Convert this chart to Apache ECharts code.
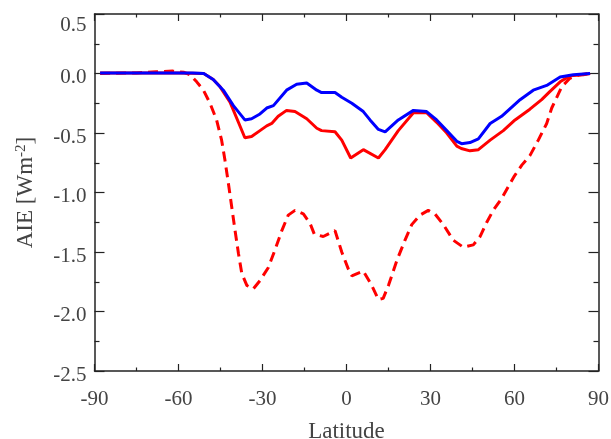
<!DOCTYPE html>
<html>
<head>
<meta charset="utf-8">
<script src="https://cdn.jsdelivr.net/npm/echarts@6/dist/echarts.min.js"></script>
<style>html,body{margin:0;padding:0;background:#fff}#c{width:611px;height:439px}</style>
</head>
<body>
<div id="c"></div>
<script>
// Blue solid
const latBlue = [-88,-80,-70,-60,-55,-51,-47.6,-44,-40.4,-36.3,-33.9,-30.9,-28.5,-26.1,-21.4,-17.8,-14.2,-10.6,-8.9,-4.1,-1.7,1.9,6,8.4,11.4,13.8,18.5,23.9,28.6,32.2,35.8,39.4,41.1,44.1,47.1,51.3,55.4,62,66.7,71.5,76.3,81,87];
const aieBlue = [0.005,0.005,0.005,0.005,0.005,0,-0.05,-0.14,-0.27,-0.39,-0.38,-0.34,-0.29,-0.27,-0.14,-0.09,-0.08,-0.14,-0.16,-0.16,-0.20,-0.25,-0.32,-0.39,-0.47,-0.49,-0.39,-0.31,-0.32,-0.39,-0.48,-0.57,-0.59,-0.58,-0.55,-0.42,-0.36,-0.22,-0.14,-0.10,-0.03,-0.01,0];
// Red solid
const latRed = [-88,-60,-51,-47.6,-45.2,-41.6,-38.6,-36.3,-33.9,-30.9,-28.5,-26.7,-24.4,-21.4,-18.4,-14.2,-10.6,-8.9,-4.1,-1.7,1.5,6,11.4,13.8,18.5,23.9,28.6,32.2,35.8,39.4,41,44.1,47.1,51.3,56,60.2,65.5,69.7,72.7,76.3,79.8,84.6,87];
const aieRed = [0.005,0.005,0,-0.05,-0.11,-0.24,-0.41,-0.54,-0.53,-0.48,-0.44,-0.42,-0.36,-0.31,-0.32,-0.38,-0.46,-0.48,-0.49,-0.56,-0.71,-0.64,-0.71,-0.64,-0.48,-0.33,-0.33,-0.41,-0.50,-0.61,-0.63,-0.65,-0.64,-0.56,-0.48,-0.39,-0.30,-0.22,-0.15,-0.07,-0.02,-0.01,0];
// Red dashed
const latRedDash = [-88,-75,-68,-62,-58,-55.9,-53.5,-51.1,-48.75,-46.4,-44.6,-43.4,-42.2,-41,-39.8,-38.6,-37.4,-35.6,-33.3,-30.9,-27.9,-25.5,-23.1,-20.8,-18.4,-15.4,-13,-11.5,-8.3,-4.1,-1.7,0.6,1.9,6,9,11.4,13.1,15,18,20.9,23.3,26.25,29.2,31.6,34.6,38.1,41.7,45.3,47.7,50.1,52.4,55.4,57.8,60,62.6,65.5,68.5,71.5,73.3,75.1,76.9,79.8,83.4,87];
const aieRedDash = [0,0.005,0.015,0.02,0.01,-0.01,-0.07,-0.14,-0.25,-0.39,-0.56,-0.73,-0.92,-1.12,-1.32,-1.51,-1.68,-1.78,-1.81,-1.74,-1.63,-1.48,-1.32,-1.19,-1.15,-1.18,-1.26,-1.35,-1.37,-1.32,-1.50,-1.64,-1.70,-1.66,-1.78,-1.90,-1.89,-1.78,-1.57,-1.40,-1.27,-1.19,-1.15,-1.18,-1.27,-1.40,-1.46,-1.44,-1.37,-1.25,-1.15,-1.05,-0.95,-0.86,-0.77,-0.69,-0.56,-0.42,-0.29,-0.20,-0.11,-0.04,-0.01,0];

const xTicks = [-90,-60,-30,0,30,60,90];
const yTicks = [0.5,0.0,-0.5,-1.0,-1.5,-2.0,-2.5];

function pairs(xs, ys){ return xs.map((x,i)=>[x, ys[i]]); }

const FONT = '"Liberation Serif", "DejaVu Serif", serif';
const axisLineStyle = {color:'#222', width:1.5};

const chart = echarts.init(document.getElementById('c'), null, {renderer:'canvas'});
chart.setOption({
  animation:false,
  backgroundColor:'#fff',
  grid:{left:94.5, right:12.5, top:14, bottom:68, containLabel:false, outerBoundsMode:'none'},
  xAxis:[{
    type:'value', min:-90, max:90, interval:30, position:'bottom',
    name:'Latitude', nameLocation:'middle', nameGap:49,
    nameTextStyle:{fontFamily:FONT, fontSize:23, color:'#444'},
    axisLine:{show:true, onZero:false, lineStyle:axisLineStyle},
    axisTick:{show:true, inside:true, length:7, lineStyle:{color:'#222', width:1.2}},
    minorTick:{show:true, splitNumber:2, length:3.5, lineStyle:{color:'#222', width:1.2}},
    axisLabel:{fontFamily:FONT, fontSize:21, color:'#444', margin:18,
      formatter:v=> xTicks.includes(v) ? String(v) : ''},
    splitLine:{show:false}
  },{
    type:'value', min:-90, max:90, interval:30, position:'top',
    axisLine:{show:true, onZero:false, lineStyle:axisLineStyle},
    axisTick:{show:true, inside:true, length:7, lineStyle:{color:'#222', width:1.2}},
    minorTick:{show:true, splitNumber:2, length:3.5, lineStyle:{color:'#222', width:1.2}},
    axisLabel:{show:false}, splitLine:{show:false}
  }],
  yAxis:[{
    type:'value', min:-2.5, max:0.5, interval:0.5, position:'left',
    name:'AIE [Wm{sup|-2}]', nameLocation:'middle', nameRotate:90, nameGap:56,
    nameTextStyle:{fontFamily:FONT, fontSize:23, color:'#444',
      rich:{sup:{fontFamily:FONT, fontSize:15, color:'#444', verticalAlign:'top', padding:[0,0,10,0]}}},
    axisLine:{show:true, onZero:false, lineStyle:axisLineStyle},
    axisTick:{show:true, inside:true, length:10, lineStyle:{color:'#222', width:1.2}},
    minorTick:{show:true, splitNumber:2, length:5, lineStyle:{color:'#222', width:1.2}},
    axisLabel:{fontFamily:FONT, fontSize:21, color:'#444', margin:8,
      formatter:v=>{ const t = yTicks.find(a=>Math.abs(a-v)<1e-9); if (t===undefined) return '';
        return (t===0.5 ? '{top|' : '{n|') + t.toFixed(1) + '}'; },
      rich:{
        n:{fontFamily:FONT, fontSize:21, color:'#444', padding:[8,0,0,0]},
        top:{fontFamily:FONT, fontSize:21, color:'#444', padding:[22,0,0,0]}
      }},
    splitLine:{show:false}
  },{
    type:'value', min:-2.5, max:0.5, interval:0.5, position:'right',
    axisLine:{show:true, onZero:false, lineStyle:axisLineStyle},
    axisTick:{show:true, inside:true, length:10, lineStyle:{color:'#222', width:1.2}},
    minorTick:{show:true, splitNumber:2, length:5, lineStyle:{color:'#222', width:1.2}},
    axisLabel:{show:false}, splitLine:{show:false}
  }],
  series:[
    {type:'line', data:pairs(latRedDash, aieRedDash), showSymbol:false, symbol:'none',
      lineStyle:{color:'#ff0000', width:3, type:[10,6]}, z:2},
    {type:'line', data:pairs(latRed, aieRed), showSymbol:false, symbol:'none',
      lineStyle:{color:'#ff0000', width:3}, z:3},
    {type:'line', data:pairs(latBlue, aieBlue), showSymbol:false, symbol:'none',
      lineStyle:{color:'#0000ff', width:3}, z:4}
  ]
});
</script>
</body>
</html>
